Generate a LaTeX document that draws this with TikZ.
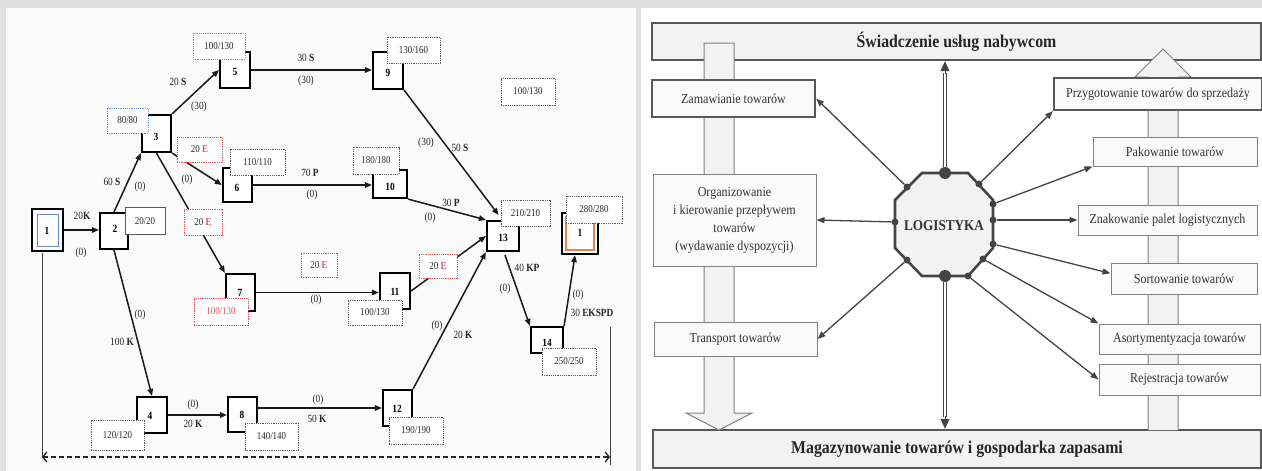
\documentclass[tikz,border=0pt]{standalone}
\usepackage{fontspec}
\setmainfont{Liberation Serif}
\newfontfamily\LT[FakeStretch=0.85]{Liberation Serif}
\newfontfamily\RT[FakeStretch=0.88]{Liberation Serif}
\usetikzlibrary{arrows.meta,calc}
\definecolor{bggray}{HTML}{DFE0E2}
\definecolor{redl}{HTML}{E2505A}
\definecolor{bluel}{HTML}{5B8FD0}
\definecolor{orangel}{HTML}{EA8048}
\definecolor{rline}{HTML}{444444}
\definecolor{rbox}{HTML}{585858}
\pgfdeclarelayer{back}
\pgfdeclarelayer{bg}
\pgfsetlayers{back,bg,main}
\tikzset{
 nbox/.style={draw=black, line width=2.2pt, fill=white, inner sep=0pt},
 lbox/.style={draw=black!65, line width=0.8pt, dash pattern=on 1.2pt off 1pt, fill=white, inner sep=0pt, font=\LT\fontsize{10.5}{12}\selectfont, text=black!85},
 lboxb/.style={lbox, draw=bluel},
 lboxr/.style={lbox, draw=redl},
 ntxt/.style={font=\LT\bfseries\fontsize{11}{12}\selectfont, inner sep=0pt},
 etxt/.style={font=\LT\fontsize{11}{12}\selectfont, inner sep=0pt, text=black!85},
 edge/.style={draw=black!90, line width=1.5pt, -{Triangle[length=7pt,width=5.5pt]}},
 rbar/.style={draw=rbox, line width=2.4pt, fill=black!5, inner sep=0pt, font=\RT\bfseries\fontsize{18}{20}\selectfont, text=black!85},
 rboxT/.style={draw=rbox, line width=2.2pt, fill=black!2, inner sep=0pt, font=\RT\fontsize{13.7}{18}\selectfont, text=black!80, align=center},
 rboxt/.style={rboxT, draw=black!50, line width=1pt},
 rarr/.style={draw=rline, line width=1.3pt, -{Triangle[length=8pt,width=6pt]}},
 dot/.style={circle, fill=rline, inner sep=0pt, minimum size=7pt},
 bigdot/.style={dot, minimum size=12pt},
 pipest/.style={draw=black!50, line width=1pt, fill=black!5},
 dbl/.style={draw=rline, line width=1.2pt, double=white, double distance=2.5pt},
 dtip/.style={draw=rline, line width=1pt, -{Triangle[length=10pt,width=9pt]}},
}
\begin{document}
\begin{tikzpicture}[x=1pt,y=-1pt]
\useasboundingbox (0,0) rectangle (1262,471);
\begin{pgfonlayer}{back}
\fill[bggray] (0,0) rectangle (1262,471);
\fill[white!98!black] (6,8) rectangle (636,471);
\fill[white] (641,8) rectangle (1262,471);
\end{pgfonlayer}

% ================= LEFT PANEL =================
% node boxes
\node[nbox, minimum width=31pt, minimum height=42pt] (n1) at (47.5,230) {};
\node[draw=bluel, line width=0.9pt, inner sep=0pt, minimum width=21pt, minimum height=32pt] (n1i) at (47.5,230) {};
\node[nbox, minimum width=28pt, minimum height=36pt] (n2) at (114,231) {};
\node[nbox, minimum width=29pt, minimum height=37pt] (n3) at (156.5,133.5) {};
\node[nbox, minimum width=30pt, minimum height=36pt] (n4) at (152,415) {};
\node[nbox, minimum width=30pt, minimum height=36pt] (n5) at (235,70) {};
\node[nbox, minimum width=29pt, minimum height=34pt] (n6) at (237.5,185) {};
\node[nbox, minimum width=29pt, minimum height=37pt] (n7) at (240.5,292.5) {};
\node[nbox, minimum width=29pt, minimum height=35pt] (n8) at (242.5,414.5) {};
\node[nbox, minimum width=30pt, minimum height=37pt] (n9) at (388,70.5) {};
\node[nbox, minimum width=34pt, minimum height=28pt] (n10) at (390,184) {};
\node[nbox, minimum width=30pt, minimum height=36pt] (n11) at (395,291) {};
\node[nbox, minimum width=29pt, minimum height=36pt] (n12) at (397.5,408) {};
\node[nbox, minimum width=32pt, minimum height=30pt] (n13) at (503,236) {};
\node[nbox, minimum width=32pt, minimum height=26pt] (n14) at (547,340) {};
\node[nbox, minimum width=36pt, minimum height=41pt] (nE) at (580,233.5) {};
\node[draw=orangel, line width=1.6pt, inner sep=0pt, minimum width=28pt, minimum height=33pt] (nEi) at (580,233.5) {};
% numbers
\node[ntxt] (t1) at (47,231) {1};
\node[ntxt] (t2) at (115,229) {2};
\node[ntxt] (t3) at (156,137) {3};
\node[ntxt] (t4) at (150,416) {4};
\node[ntxt] (t5) at (235,72) {5};
\node[ntxt] (t6) at (237,188) {6};
\node[ntxt] (t7) at (240,293) {7};
\node[ntxt] (t8) at (242,415) {8};
\node[ntxt] (t9) at (388,73) {9};
\node[ntxt] (t10) at (390,187) {10};
\node[ntxt] (t11) at (395,292) {11};
\node[ntxt] (t12) at (397,409) {12};
\node[ntxt] (t13) at (503,238) {13};
\node[ntxt] (t14) at (547,343) {14};
\node[ntxt] (tE) at (580,233) {1};
% label boxes
\node[lbox, solid, minimum width=40pt, minimum height=27pt] (l2) at (145,221) {20/20};
\node[lboxb, minimum width=41pt, minimum height=25pt] (l3) at (127.5,120.5) {80/80};
\node[lboxb, minimum width=52pt, minimum height=26pt] (l5) at (219,46) {100/130};
\node[lbox, minimum width=55pt, minimum height=26pt] (l6) at (257.5,162) {110/110};
\node[lboxr, text=redl, minimum width=54pt, minimum height=27pt] (l7) at (221,311.5) {100/130};
\node[lbox, minimum width=53pt, minimum height=30pt] (l4) at (117.5,435) {120/120};
\node[lbox, minimum width=53pt, minimum height=27pt] (l8) at (271.5,436.5) {140/140};
\node[lbox, minimum width=53pt, minimum height=26pt] (l9) at (413.5,50) {130/160};
\node[lbox, minimum width=46pt, minimum height=27pt] (l10) at (376,160.5) {180/180};
\node[lbox, minimum width=54pt, minimum height=25pt] (l11) at (375,312.5) {100/130};
\node[lbox, minimum width=54pt, minimum height=27pt] (l12) at (416,430.5) {190/190};
\node[lbox, minimum width=49pt, minimum height=26pt] (l13) at (525.5,213) {210/210};
\node[lbox, minimum width=54pt, minimum height=27pt] (l14) at (569,361.5) {250/250};
\node[lbox, minimum width=56pt, minimum height=27pt] (lE) at (594,209.5) {280/280};
\node[lbox, minimum width=54pt, minimum height=27pt] (lx) at (528,91.5) {100/130};
\node[lboxr, minimum width=45pt, minimum height=25pt] (e36) at (199.5,149.5) {20 \textcolor{redl}{\bfseries E}};
\node[lboxr, minimum width=38pt, minimum height=26pt] (e37) at (203,222) {20 \textcolor{redl}{\bfseries E}};
\node[lboxr, minimum width=36pt, minimum height=24pt] (ex) at (319,265) {20 \textcolor{redl}{\bfseries E}};
\node[lboxr, minimum width=38pt, minimum height=24pt] (e1113) at (438,266) {20 \textcolor{redl}{\bfseries E}};
% edges
\begin{pgfonlayer}{bg}
\draw[edge] (n1.east) -- (n1.east -| n2.west);
\draw[edge] (n2.north) -- (n3.south west);
\draw[edge] (n3.north east) -- (n5.west);
\draw[edge] (n3.south east) -- (n6.west);
\draw[edge] (n3.south) -- (n7.north west);
\draw[edge] (n2.south) -- (n4.north);
\draw[edge] (n4.east) -- (n4.east -| n8.west);
\draw[edge] (n8.east |- n12.west) -- (n12.west);
\draw[edge] (n5.east) -- (n5.east -| n9.west);
\draw[edge] (n6.east) -- (n6.east -| n10.west);
\draw[edge] (n7.east) -- (n7.east -| n11.west);
\draw[edge] (n9.south east) -- ($(l13.west)+(-2,2)$);
\draw[edge] (n10.south east) -- (n13.north west);
\draw[edge] (n11.east) -- (n13.west);
\draw[edge] (n12.north east) -- (n13.south west);
\draw[edge] ($(n13.south)+(2,3)$) -- (n14.north west);
\draw[edge] (n14.north east) -- ($(nE.south)+(-5,0)$);
\end{pgfonlayer}
% edge labels
\node[etxt] (a1) at (82,216) {20\textbf{K}};
\node[etxt] (a2) at (81,253) {(0)};
\node[etxt] (a3) at (112,182) {60 \textbf{S}};
\node[etxt] (a4) at (140,187) {(0)};
\node[etxt] (a5) at (178,82) {20 \textbf{S}};
\node[etxt] (a6) at (199,107) {(30)};
\node[etxt] (a7) at (187,180) {(0)};
\node[etxt] (a8) at (140,315) {(0)};
\node[etxt] (a9) at (122,342) {100 \textbf{K}};
\node[etxt] (a10) at (193,405) {(0)};
\node[etxt] (a11) at (193,424) {20 \textbf{K}};
\node[etxt] (a12) at (318,400) {(0)};
\node[etxt] (a13) at (317,419) {50 \textbf{K}};
\node[etxt] (a14) at (306,58) {30 \textbf{S}};
\node[etxt] (a15) at (306,81) {(30)};
\node[etxt] (a16) at (310,173) {70 \textbf{P}};
\node[etxt] (a17) at (312,195) {(0)};
\node[etxt] (a18) at (426,143) {(30)};
\node[etxt] (a19) at (460,148) {50 \textbf{S}};
\node[etxt] (a20) at (451,203) {30 \textbf{P}};
\node[etxt] (a21) at (430,218) {(0)};
\node[etxt] (a22) at (316,300) {(0)};
\node[etxt] (a23) at (437,326) {(0)};
\node[etxt] (a24) at (463,335) {20 \textbf{K}};
\node[etxt] (a25) at (527,268) {40 \textbf{KP}};
\node[etxt] (a26) at (505,289) {(0)};
\node[etxt] (a27) at (578,295) {(0)};
\node[etxt] (a28) at (592,313) {30 \textbf{EKSPD}};
% span lines
\coordinate (lt) at (42,253);
\coordinate (bl) at (42,457);
\coordinate (rt) at (610,327);
\coordinate (br) at (610,457);
\coordinate (rb) at (610,465);
\draw[black!75, line width=0.9pt] (lt) -- (bl);
\draw[black!75, line width=0.9pt] (rt) -- (rb);
\draw[black!85, line width=1.3pt, dash pattern=on 5pt off 3pt, {Straight Barb[length=4pt,width=10pt]}-{Straight Barb[length=4pt,width=10pt]}] (bl) -- (br);

% ================= RIGHT PANEL =================
\node[rbar, minimum width=609pt, minimum height=37pt] (topbar) at (956.5,41.5) {Świadczenie usług nabywcom};
\node[rbar, minimum width=608pt, minimum height=38pt] (botbar) at (957,449) {Magazynowanie towarów i gospodarka zapasami};
% pipes
\draw[pipest] (704,43) -- (734,43) -- (734,413) -- (752,413) -- (719,430) -- (686,413) -- (704,413) -- cycle;
\draw[pipest] (1148,430) -- (1148,77) -- (1135,77) -- (1163,49) -- (1191,77) -- (1178,77) -- (1178,430);
% boxes
\node[rboxT, minimum width=163pt, minimum height=37pt] (zam) at (733.5,98.5) {Zamawianie towarów};
\node[rboxt, minimum width=163pt, minimum height=92pt] (org) at (734.5,220) {Organizowanie\\ i kierowanie przepływem\\ towarów\\ (wydawanie dyspozycji)};
\node[rboxt, minimum width=163pt, minimum height=34pt] (tra) at (735.5,339) {Transport towarów};
\node[rboxT, minimum width=208pt, minimum height=32pt] (prz) at (1158,94) {Przygotowanie towarów do sprzedaży};
\node[rboxt, minimum width=164pt, minimum height=29pt] (pak) at (1175,151.5) {Pakowanie towarów};
\node[rboxt, minimum width=179pt, minimum height=30pt] (zna) at (1167.5,220) {Znakowanie palet logistycznych};
\node[rboxt, minimum width=146pt, minimum height=31pt] (sor) at (1184,278.5) {Sortowanie towarów};
\node[rboxt, minimum width=161pt, minimum height=30pt] (aso) at (1179.5,339) {Asortymentyzacja towarów};
\node[rboxt, minimum width=161pt, minimum height=31pt] (rej) at (1179.5,379.5) {Rejestracja towarów};
% octagon
\draw[draw=rline, line width=2.6pt, fill=black!5] (922,173) -- (968,173) -- (993,200) -- (993,248) -- (968,276) -- (922,276) -- (895,248) -- (895,200) -- cycle;
\node[font=\RT\bfseries\fontsize{15}{16}\selectfont, text=black!80, inner sep=0pt] (logo) at (944,226) {LOGISTYKA};
% dots
\node[bigdot] (dT) at (945,173) {};
\node[bigdot] (dB) at (945,276) {};
\node[dot] (d1) at (907,187) {};
\node[dot] (d2) at (895,222) {};
\node[dot] (d3) at (907,260) {};
\node[dot] (d4) at (979,184) {};
\node[dot] (d5) at (993,204) {};
\node[dot] (d6) at (993,220) {};
\node[dot] (d7) at (993,244) {};
\node[dot] (d8) at (983,259) {};
\node[dot] (d9) at (968,276) {};
% connectors
\draw[rarr] (d1) -- (zam.east);
\draw[rarr] (d2) -- (org.east);
\draw[rarr] (d3) -- (tra.east);
\draw[rarr] (d4) -- (prz.south west);
\draw[rarr] (d5) -- (pak.south west);
\draw[rarr] (d6) -- (zna.west);
\draw[rarr] (d7) -- (sor.176);
\draw[rarr] (d8) -- (aso.north west);
\draw[rarr] (d9) -- (rej.west);
\draw[dbl] (dT.north) -- ($(dT |- topbar.south)+(0,12)$);
\draw[dtip] ($(dT |- topbar.south)+(0,13)$) -- (dT |- topbar.south);
\draw[dbl] (dB.south) -- ($(dB |- botbar.north)+(0,-12)$);
\draw[dtip] ($(dB |- botbar.north)+(0,-13)$) -- (dB |- botbar.north);
\end{tikzpicture}
\end{document}
